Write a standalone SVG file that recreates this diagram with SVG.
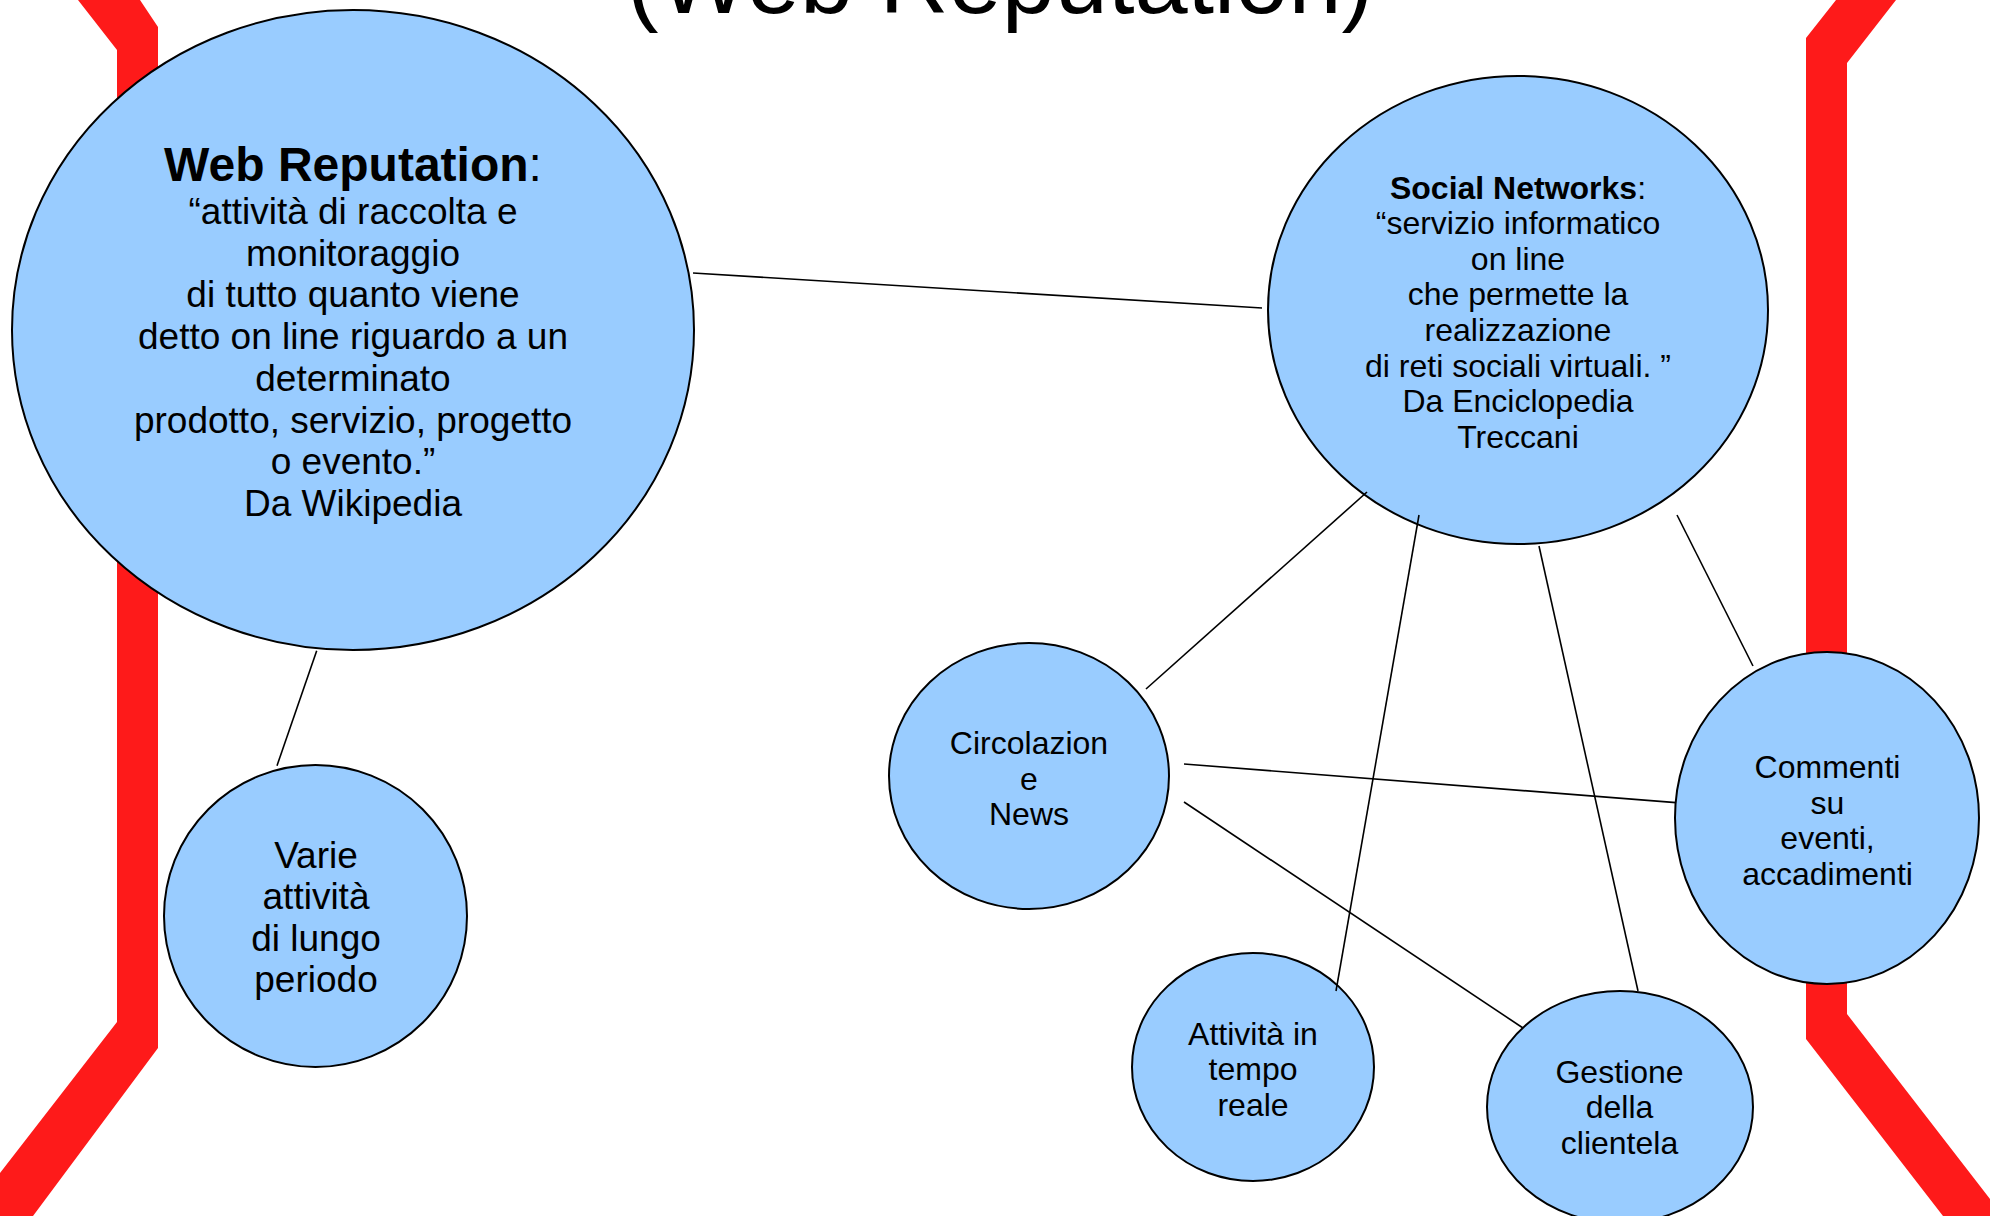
<svg xmlns="http://www.w3.org/2000/svg" width="1990" height="1216" viewBox="0 0 1990 1216">
<style>
.band{fill:#FE1A1A;stroke:none}
.node{fill:#99CCFF;stroke:#000;stroke-width:2}
.t{font-family:"Liberation Sans",Arial,sans-serif;fill:#000;text-anchor:middle}
.conn line{stroke:#000;stroke-width:1.6}
</style>
<rect width="1990" height="1216" fill="#fff"/>
<g id="bands">
<polygon class="band" points="78,0 140,0 158,27 158,1048 33,1216 0,1216 0,1173 117,1022 117,50"/>
<polygon class="band" points="1836,0 1896,0 1847,63 1847,1014 1990,1199 1990,1216 1943,1216 1806,1039 1806,38"/>
</g>
<text id="title" class="t" x="1000" y="13" font-size="95.5">(Web Reputation)</text>
<g id="web-reputation">
<ellipse class="node" cx="353" cy="330" rx="341" ry="320"/>
<text class="t" x="353" y="181" font-size="48"><tspan font-weight="bold">Web Reputation</tspan>:</text>
<text class="t" font-size="37"><tspan x="353" y="224">“attività di raccolta e</tspan><tspan x="353" y="265.7">monitoraggio</tspan><tspan x="353" y="307.4">di tutto quanto viene</tspan><tspan x="353" y="349.1">detto on line riguardo a un</tspan><tspan x="353" y="390.8">determinato</tspan><tspan x="353" y="432.5">prodotto, servizio, progetto</tspan><tspan x="353" y="474.2">o evento.”</tspan><tspan x="353" y="515.9">Da Wikipedia</tspan></text>
</g>
<g id="social-networks">
<ellipse class="node" cx="1518" cy="310" rx="250" ry="234"/>
<text class="t" font-size="32"><tspan x="1518" y="198.5"><tspan font-weight="bold">Social Networks</tspan>:</tspan><tspan x="1518" y="234.1">“servizio informatico</tspan><tspan x="1518" y="269.7">on line</tspan><tspan x="1518" y="305.3">che permette la</tspan><tspan x="1518" y="340.9">realizzazione</tspan><tspan x="1518" y="376.5">di reti sociali virtuali. ”</tspan><tspan x="1518" y="412.1">Da Enciclopedia</tspan><tspan x="1518" y="447.7">Treccani</tspan></text>
</g>
<g id="varie">
<ellipse class="node" cx="315.5" cy="916" rx="151.5" ry="151"/>
<text class="t" font-size="37"><tspan x="316" y="867.5">Varie</tspan><tspan x="316" y="909">attività</tspan><tspan x="316" y="950.5">di lungo</tspan><tspan x="316" y="992">periodo</tspan></text>
</g>
<g id="circolazione">
<ellipse class="node" cx="1029" cy="776" rx="140" ry="133"/>
<text class="t" font-size="32"><tspan x="1029" y="754">Circolazion</tspan><tspan x="1029" y="789.5">e</tspan><tspan x="1029" y="825">News</tspan></text>
</g>
<g id="commenti">
<ellipse class="node" cx="1827" cy="818" rx="152" ry="166"/>
<text class="t" font-size="32"><tspan x="1827.5" y="778">Commenti</tspan><tspan x="1827.5" y="813.5">su</tspan><tspan x="1827.5" y="849">eventi,</tspan><tspan x="1827.5" y="884.5">accadimenti</tspan></text>
</g>
<g id="attivita">
<ellipse class="node" cx="1253" cy="1067" rx="121" ry="114"/>
<text class="t" font-size="32"><tspan x="1253" y="1044.5">Attività in</tspan><tspan x="1253" y="1080">tempo</tspan><tspan x="1253" y="1115.5">reale</tspan></text>
</g>
<g id="gestione">
<ellipse class="node" cx="1620" cy="1107" rx="133" ry="116"/>
<text class="t" font-size="32"><tspan x="1619.5" y="1082.5">Gestione</tspan><tspan x="1619.5" y="1118">della</tspan><tspan x="1619.5" y="1153.5">clientela</tspan></text>
</g>
<g id="connectors" class="conn">
<line x1="693" y1="273" x2="1262" y2="308"/>
<line x1="316.7" y1="650.7" x2="277" y2="765.7"/>
<line x1="1367" y1="492" x2="1146" y2="689"/>
<line x1="1419" y1="515" x2="1336" y2="991"/>
<line x1="1539" y1="546" x2="1638" y2="991"/>
<line x1="1677" y1="515" x2="1753" y2="666"/>
<line x1="1184" y1="764" x2="1676" y2="802.6"/>
<line x1="1184" y1="802" x2="1523" y2="1028"/>
</g>
</svg>
